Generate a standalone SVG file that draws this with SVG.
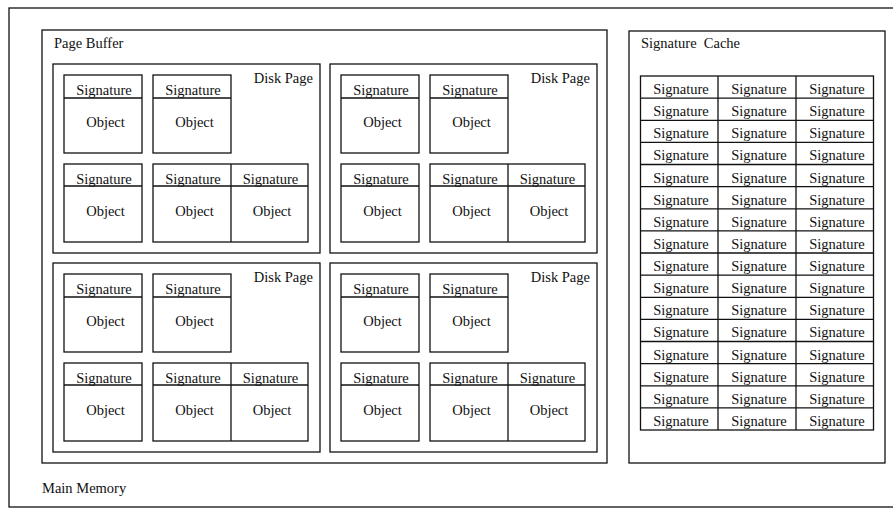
<svg xmlns="http://www.w3.org/2000/svg" width="893" height="508" viewBox="0 0 893 508">
<style>
rect, line { fill: none; stroke: #111; stroke-width: 1.3; }
text { font-family: "Liberation Serif", "Times New Roman", serif; font-size: 14.5px; fill: #111; }
.c { text-anchor: middle; }
.r { text-anchor: end; }
</style>
<rect x="0" y="0" width="893" height="508" style="fill:#fff;stroke:none"/>
<g id="main-memory">
  <rect x="9" y="8" width="900" height="499"/>
  <text x="42" y="493">Main Memory</text>
</g>
<g id="page-buffer">
  <rect x="42" y="30" width="565" height="433"/>
  <text x="54" y="48">Page Buffer</text>
</g>
<g id="disk-page-1" transform="translate(53,64)">
  <rect x="0" y="0" width="267" height="189"/>
  <text class="r" x="260" y="19">Disk Page</text>
  <rect x="11" y="11" width="78" height="78"/><line x1="11" y1="34" x2="89" y2="34"/>
  <text class="c" x="51" y="30.5">Signature</text><text class="c" x="52.5" y="63">Object</text>
  <rect x="100" y="11" width="78" height="78"/><line x1="100" y1="34" x2="178" y2="34"/>
  <text class="c" x="140" y="30.5">Signature</text><text class="c" x="141.5" y="63">Object</text>
  <rect x="11" y="100" width="78" height="78"/><line x1="11" y1="122" x2="89" y2="122"/>
  <text class="c" x="51" y="119.5">Signature</text><text class="c" x="52.5" y="152">Object</text>
  <rect x="100" y="100" width="155" height="78"/><line x1="100" y1="122" x2="255" y2="122"/><line x1="178" y1="100" x2="178" y2="178"/>
  <text class="c" x="140" y="119.5">Signature</text><text class="c" x="141.5" y="152">Object</text>
  <text class="c" x="217.5" y="119.5">Signature</text><text class="c" x="219" y="152">Object</text>
</g>
<g id="disk-page-2" transform="translate(330,64)">
  <rect x="0" y="0" width="267" height="189"/>
  <text class="r" x="260" y="19">Disk Page</text>
  <rect x="11" y="11" width="78" height="78"/><line x1="11" y1="34" x2="89" y2="34"/>
  <text class="c" x="51" y="30.5">Signature</text><text class="c" x="52.5" y="63">Object</text>
  <rect x="100" y="11" width="78" height="78"/><line x1="100" y1="34" x2="178" y2="34"/>
  <text class="c" x="140" y="30.5">Signature</text><text class="c" x="141.5" y="63">Object</text>
  <rect x="11" y="100" width="78" height="78"/><line x1="11" y1="122" x2="89" y2="122"/>
  <text class="c" x="51" y="119.5">Signature</text><text class="c" x="52.5" y="152">Object</text>
  <rect x="100" y="100" width="155" height="78"/><line x1="100" y1="122" x2="255" y2="122"/><line x1="178" y1="100" x2="178" y2="178"/>
  <text class="c" x="140" y="119.5">Signature</text><text class="c" x="141.5" y="152">Object</text>
  <text class="c" x="217.5" y="119.5">Signature</text><text class="c" x="219" y="152">Object</text>
</g>
<g id="disk-page-3" transform="translate(53,263)">
  <rect x="0" y="0" width="267" height="189"/>
  <text class="r" x="260" y="19">Disk Page</text>
  <rect x="11" y="11" width="78" height="78"/><line x1="11" y1="34" x2="89" y2="34"/>
  <text class="c" x="51" y="30.5">Signature</text><text class="c" x="52.5" y="63">Object</text>
  <rect x="100" y="11" width="78" height="78"/><line x1="100" y1="34" x2="178" y2="34"/>
  <text class="c" x="140" y="30.5">Signature</text><text class="c" x="141.5" y="63">Object</text>
  <rect x="11" y="100" width="78" height="78"/><line x1="11" y1="122" x2="89" y2="122"/>
  <text class="c" x="51" y="119.5">Signature</text><text class="c" x="52.5" y="152">Object</text>
  <rect x="100" y="100" width="155" height="78"/><line x1="100" y1="122" x2="255" y2="122"/><line x1="178" y1="100" x2="178" y2="178"/>
  <text class="c" x="140" y="119.5">Signature</text><text class="c" x="141.5" y="152">Object</text>
  <text class="c" x="217.5" y="119.5">Signature</text><text class="c" x="219" y="152">Object</text>
</g>
<g id="disk-page-4" transform="translate(330,263)">
  <rect x="0" y="0" width="267" height="189"/>
  <text class="r" x="260" y="19">Disk Page</text>
  <rect x="11" y="11" width="78" height="78"/><line x1="11" y1="34" x2="89" y2="34"/>
  <text class="c" x="51" y="30.5">Signature</text><text class="c" x="52.5" y="63">Object</text>
  <rect x="100" y="11" width="78" height="78"/><line x1="100" y1="34" x2="178" y2="34"/>
  <text class="c" x="140" y="30.5">Signature</text><text class="c" x="141.5" y="63">Object</text>
  <rect x="11" y="100" width="78" height="78"/><line x1="11" y1="122" x2="89" y2="122"/>
  <text class="c" x="51" y="119.5">Signature</text><text class="c" x="52.5" y="152">Object</text>
  <rect x="100" y="100" width="155" height="78"/><line x1="100" y1="122" x2="255" y2="122"/><line x1="178" y1="100" x2="178" y2="178"/>
  <text class="c" x="140" y="119.5">Signature</text><text class="c" x="141.5" y="152">Object</text>
  <text class="c" x="217.5" y="119.5">Signature</text><text class="c" x="219" y="152">Object</text>
</g>
<g id="signature-cache">
  <rect x="629" y="31" width="256" height="432"/>
  <text x="641" y="48" style="white-space:pre">Signature  Cache</text>
  <rect x="640.5" y="76" width="233" height="354"/>
  <line x1="718" y1="76" x2="718" y2="430"/>
  <line x1="796" y1="76" x2="796" y2="430"/>
  <line x1="640.5" y1="98.1" x2="873.5" y2="98.1"/>
  <line x1="640.5" y1="120.3" x2="873.5" y2="120.3"/>
  <line x1="640.5" y1="142.4" x2="873.5" y2="142.4"/>
  <line x1="640.5" y1="164.5" x2="873.5" y2="164.5"/>
  <line x1="640.5" y1="186.6" x2="873.5" y2="186.6"/>
  <line x1="640.5" y1="208.8" x2="873.5" y2="208.8"/>
  <line x1="640.5" y1="230.9" x2="873.5" y2="230.9"/>
  <line x1="640.5" y1="253" x2="873.5" y2="253"/>
  <line x1="640.5" y1="275.1" x2="873.5" y2="275.1"/>
  <line x1="640.5" y1="297.3" x2="873.5" y2="297.3"/>
  <line x1="640.5" y1="319.4" x2="873.5" y2="319.4"/>
  <line x1="640.5" y1="341.5" x2="873.5" y2="341.5"/>
  <line x1="640.5" y1="363.6" x2="873.5" y2="363.6"/>
  <line x1="640.5" y1="385.8" x2="873.5" y2="385.8"/>
  <line x1="640.5" y1="407.9" x2="873.5" y2="407.9"/>
  <g class="c">
    <text class="c" x="681" y="94">Signature</text><text class="c" x="759" y="94">Signature</text><text class="c" x="837" y="94">Signature</text>
    <text class="c" x="681" y="116.1">Signature</text><text class="c" x="759" y="116.1">Signature</text><text class="c" x="837" y="116.1">Signature</text>
    <text class="c" x="681" y="138.3">Signature</text><text class="c" x="759" y="138.3">Signature</text><text class="c" x="837" y="138.3">Signature</text>
    <text class="c" x="681" y="160.4">Signature</text><text class="c" x="759" y="160.4">Signature</text><text class="c" x="837" y="160.4">Signature</text>
    <text class="c" x="681" y="182.5">Signature</text><text class="c" x="759" y="182.5">Signature</text><text class="c" x="837" y="182.5">Signature</text>
    <text class="c" x="681" y="204.6">Signature</text><text class="c" x="759" y="204.6">Signature</text><text class="c" x="837" y="204.6">Signature</text>
    <text class="c" x="681" y="226.8">Signature</text><text class="c" x="759" y="226.8">Signature</text><text class="c" x="837" y="226.8">Signature</text>
    <text class="c" x="681" y="248.9">Signature</text><text class="c" x="759" y="248.9">Signature</text><text class="c" x="837" y="248.9">Signature</text>
    <text class="c" x="681" y="271">Signature</text><text class="c" x="759" y="271">Signature</text><text class="c" x="837" y="271">Signature</text>
    <text class="c" x="681" y="293.1">Signature</text><text class="c" x="759" y="293.1">Signature</text><text class="c" x="837" y="293.1">Signature</text>
    <text class="c" x="681" y="315.3">Signature</text><text class="c" x="759" y="315.3">Signature</text><text class="c" x="837" y="315.3">Signature</text>
    <text class="c" x="681" y="337.4">Signature</text><text class="c" x="759" y="337.4">Signature</text><text class="c" x="837" y="337.4">Signature</text>
    <text class="c" x="681" y="359.5">Signature</text><text class="c" x="759" y="359.5">Signature</text><text class="c" x="837" y="359.5">Signature</text>
    <text class="c" x="681" y="381.6">Signature</text><text class="c" x="759" y="381.6">Signature</text><text class="c" x="837" y="381.6">Signature</text>
    <text class="c" x="681" y="403.8">Signature</text><text class="c" x="759" y="403.8">Signature</text><text class="c" x="837" y="403.8">Signature</text>
    <text class="c" x="681" y="425.9">Signature</text><text class="c" x="759" y="425.9">Signature</text><text class="c" x="837" y="425.9">Signature</text>
  </g>
</g>
</svg>
